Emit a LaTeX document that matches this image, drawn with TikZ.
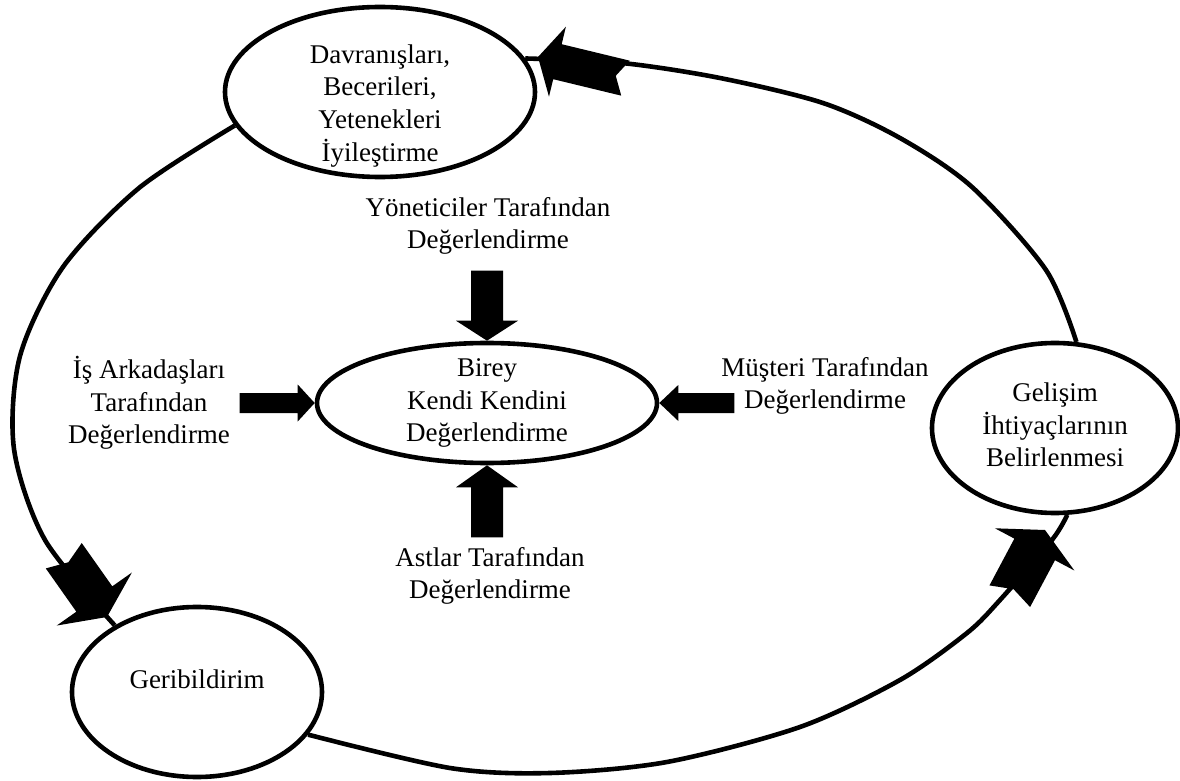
\documentclass[tikz,border=0pt]{standalone}
\usepackage{fontspec}
\setmainfont{Liberation Serif}
\usetikzlibrary{shapes.geometric}
\newcommand{\ctext}[2]{\smash{\raisebox{#1}{\begin{tabular}{@{}c@{}}#2\end{tabular}}}}
\newcommand{\blkarr}[7]{\fill[shift={#1},rotate=#2] (0,0) -- (-#4,#5) -- (-#4,#6) -- (-#3,#6) -- (-#3+#7,0) -- (-#3,-#6) -- (-#4,-#6) -- (-#4,-#5) -- cycle;}
\tikzset{
  ell/.style={ellipse, draw, line width=2.3pt, fill=white, inner sep=0pt},
  txt/.style={align=center},
  loop/.style={line width=2.3pt},
  every node/.style={font=\fontsize{13.5pt}{16.3pt}\selectfont}
}
\begin{document}
\begin{tikzpicture}[x=0.5pt,y=-0.5pt]
\useasboundingbox (0,0) rectangle (1180,781);
% ellipse nodes
\node[ell, minimum width=155pt, minimum height=85pt] (d) at (380,92)
  {\ctext{-10.4pt}{Davranışları,\\Becerileri,\\Yetenekleri\\İyileştirme}};
\node[ell, minimum width=170pt, minimum height=60pt] (b) at (487,403)
  {\ctext{-3.4pt}{Birey\\Kendi Kendini\\Değerlendirme}};
\node[ell, minimum width=125pt, minimum height=85pt] (g) at (197,692)
  {\ctext{1.6pt}{Geribildirim}};
\node[ell, minimum width=123pt, minimum height=85pt] (e) at (1055,428)
  {\ctext{-3.4pt}{Gelişim\\İhtiyaçlarının\\Belirlenmesi}};
% text nodes
\node[txt] (yon) at (488,226) {Yöneticiler Tarafından\\Değerlendirme};
\node[txt] (is) at (149,403) {İş Arkadaşları\\Tarafından\\Değerlendirme};
\node[txt] (mus) at (825,386) {Müşteri Tarafından\\Değerlendirme};
\node[txt] (ast) at (490,576) {Astlar Tarafından\\Değerlendirme};
% loop connectors
\draw[loop] plot[smooth] coordinates {(e.76) (1046,270) (972,187) (900,138) (823,103) (720,78) (622,63) (d.13)};
\draw[loop] plot[smooth] coordinates {(g.-21) (450,768) (550,773) (667,762) (800,727) (900,680) (967,633) (1000,600) (1052,540) (e.-82)};
\draw[loop] plot[smooth] coordinates {(d.193) (139,188) (63,267) (20,356) (14,449) (45,540) (g.141)};
% loop arrows
\coordinate (ta) at (538,57);
\coordinate (la) at (107,617);
\coordinate (ra) at (1045,530);
\blkarr{(ta)}{166.4}{90}{20}{36}{18}{10}
\blkarr{(la)}{-54.8}{75}{22}{46}{22}{8}
\blkarr{(ra)}{62}{75}{22}{45}{23}{8}
% central arrows
\blkarr{(b.north)}{-90}{70}{20}{31}{16}{0}
\blkarr{(b.south)}{90}{72}{22}{31}{16}{0}
\blkarr{(b.west)}{0}{75}{17}{18.5}{10}{0}
\blkarr{(b.east)}{180}{75}{19}{18}{10}{0}
\end{tikzpicture}
\end{document}
